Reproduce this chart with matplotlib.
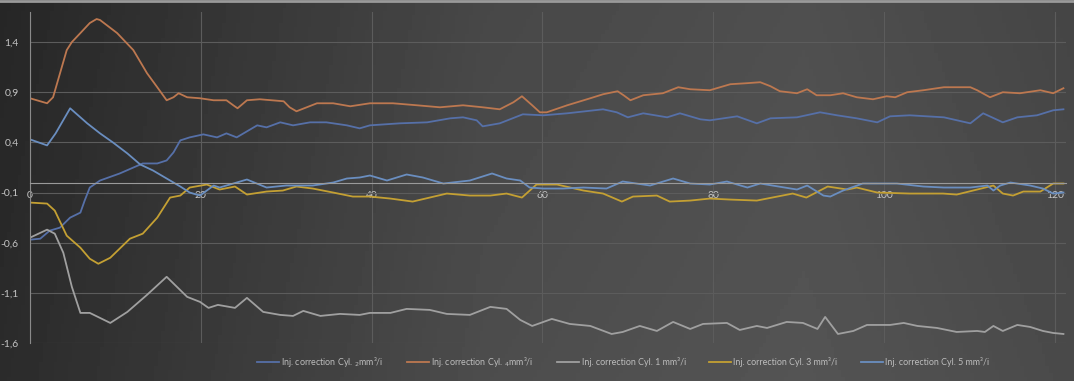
import numpy as np
import matplotlib
matplotlib.use("Agg")
import matplotlib.pyplot as plt
from matplotlib.ticker import FuncFormatter

plt.rcParams["font.family"] = ["Lato", "DejaVu Sans"]

# Cyl 4 (orange)
x_cyl4 = [0, 2, 2.7, 4.3, 4.9, 5.9, 7, 7.8, 8.2, 10.2, 12.1, 13.7, 14.9, 16, 16.8, 17.4, 18.4, 19.9,
          21.5, 23, 23.8, 24.3, 25.4, 26.9, 29.7, 30.4, 31.2, 33.6, 35.5, 37.5, 39.8, 42.5, 45.3, 48,
          50.7, 53, 55, 56.6, 57.6, 58.8, 59.7, 60.5, 62.9, 65.6, 67.1, 68.8, 69.5, 70.3, 71.8, 74.1,
          75.9, 77.3, 79.6, 82, 83.9, 85.5, 86.7, 87.8, 89.8, 91, 92.1, 93.7, 95.2, 96.8, 98.7, 100.3,
          101.3, 102.7, 104.6, 107, 110.1, 110.9, 112.4, 113.9, 115.9, 118.3, 119.8, 121]
y_cyl4 = [0.84, 0.79, 0.85, 1.32, 1.40, 1.49, 1.59, 1.63, 1.62, 1.49, 1.32, 1.09, 0.95, 0.82, 0.85,
          0.89, 0.85, 0.84, 0.82, 0.82, 0.77, 0.74, 0.82, 0.83, 0.81, 0.75, 0.71, 0.79, 0.79, 0.76,
          0.79, 0.79, 0.77, 0.75, 0.77, 0.75, 0.73, 0.80, 0.86, 0.77, 0.70, 0.70, 0.77, 0.84, 0.88,
          0.91, 0.87, 0.82, 0.87, 0.89, 0.95, 0.93, 0.92, 0.98, 0.99, 1.00, 0.96, 0.91, 0.89, 0.93,
          0.87, 0.87, 0.89, 0.85, 0.83, 0.86, 0.85, 0.90, 0.92, 0.95, 0.95, 0.92, 0.85, 0.90, 0.89,
          0.92, 0.89, 0.94]

# Cyl 1 (gris)
x_cyl1 = [0, 2, 2.9, 3.9, 4.9, 5.9, 7, 8.2, 9.4, 11.4, 13.7, 16, 18.4, 19.9, 20.9, 22, 24, 25.4,
          27.3, 29.3, 30.8, 32, 34, 36.3, 38.6, 39.8, 42.2, 44.1, 46.8, 48.8, 51.5, 53.9, 55.8, 57.4,
          58.8, 61.1, 63.2, 65.6, 68.1, 69.4, 71.4, 73.4, 75.3, 77.3, 78.8, 81.6, 83.1, 85.1, 86.3,
          88.6, 90.5, 92.2, 93.1, 94.6, 96.4, 98, 100.7, 102.3, 103.9, 106.2, 108.5, 110.9, 111.8,
          112.8, 113.9, 115.6, 117.1, 118.6, 119.8, 121]
y_cyl1 = [-0.55, -0.47, -0.51, -0.70, -1.04, -1.30, -1.30, -1.35, -1.40, -1.29, -1.12, -0.94, -1.14,
          -1.19, -1.25, -1.22, -1.25, -1.15, -1.29, -1.32, -1.33, -1.28, -1.33, -1.31, -1.32, -1.30,
          -1.30, -1.26, -1.27, -1.31, -1.32, -1.24, -1.26, -1.37, -1.43, -1.36, -1.41, -1.43, -1.51,
          -1.49, -1.43, -1.48, -1.39, -1.46, -1.41, -1.40, -1.47, -1.43, -1.45, -1.39, -1.40, -1.46,
          -1.34, -1.51, -1.48, -1.42, -1.42, -1.40, -1.43, -1.45, -1.49, -1.48, -1.49, -1.43, -1.48,
          -1.42, -1.44, -1.48, -1.50, -1.51]

# Cyl 3 (jaune)
x_cyl3 = [0, 2, 2.9, 4.3, 5.9, 7, 8, 9.4, 11.7, 13.2, 14.9, 16.4, 17.6, 18.7, 20.7, 22.2, 24, 25.4,
          27.7, 29.6, 31.2, 33.1, 35.5, 37.8, 39.8, 42.2, 44.8, 48.8, 51.5, 53.9, 55.8, 57.6, 59.3,
          61.7, 64.8, 67.1, 69.3, 70.6, 73.4, 74.9, 77.3, 79.6, 82, 85.1, 89.3, 90.9, 93.4, 95.7,
          96.8, 99.2, 103, 106.9, 108.5, 110.9, 112.8, 113.9, 115.1, 116.3, 118.3, 119.8, 121]
y_cyl3 = [-0.20, -0.21, -0.28, -0.53, -0.65, -0.76, -0.81, -0.75, -0.56, -0.51, -0.35, -0.15, -0.13,
          -0.05, -0.02, -0.07, -0.04, -0.12, -0.09, -0.08, -0.04, -0.06, -0.10, -0.14, -0.14, -0.16,
          -0.19, -0.11, -0.13, -0.13, -0.11, -0.15, -0.02, -0.02, -0.08, -0.11, -0.19, -0.14, -0.13,
          -0.19, -0.18, -0.16, -0.17, -0.18, -0.11, -0.15, -0.04, -0.07, -0.05, -0.10, -0.11, -0.11,
          -0.12, -0.07, -0.03, -0.11, -0.13, -0.09, -0.09, -0.01, -0.01]

# Cyl 5 (bleu clair, autour de 0)
x_cyl5 = [0, 2, 3, 4.7, 5.9, 6.7, 8.2, 9.7, 11.4, 12.9, 14.4, 16, 17.6, 18.7, 19.9, 21.5, 22.2, 23.8,
          25.4, 27.7, 30, 33.1, 35.5, 37.1, 38.6, 39.8, 41.8, 44.1, 46, 48.4, 51.5, 54.1, 55.8, 57.4,
          58.5, 60.1, 62.4, 64.8, 67.5, 69.4, 72.6, 75.3, 77.3, 79.6, 81.6, 84, 85.5, 89.8, 91, 92.9,
          93.7, 95.2, 97.5, 101.5, 104.6, 107, 110.1, 112.1, 112.8, 113.6, 114.8, 117.1, 118.6, 119.8,
          121]
y_cyl5 = [0.43, 0.37, 0.49, 0.74, 0.65, 0.59, 0.49, 0.40, 0.29, 0.18, 0.12, 0.04, -0.04, -0.10,
          -0.13, -0.03, -0.05, -0.01, 0.03, -0.05, -0.03, -0.03, 0.00, 0.04, 0.05, 0.07, 0.02, 0.08,
          0.05, -0.01, 0.02, 0.09, 0.04, 0.02, -0.05, -0.06, -0.06, -0.05, -0.06, 0.01, -0.03, 0.04,
          -0.01, -0.02, 0.01, -0.05, -0.01, -0.07, -0.03, -0.13, -0.14, -0.08, -0.01, -0.01, -0.04,
          -0.05, -0.05, -0.03, -0.08, -0.03, 0.00, -0.03, -0.06, -0.11, -0.10]

# Cyl 2 (bleu, monte vers 0.6)
x_cyl2 = [0, 1.2, 2.3, 3.5, 4.7, 5.9, 6.4, 7, 8.2, 10.5, 13.2, 14.9, 16, 16.8, 17.6, 18.7, 20.3,
          21.9, 23, 24.2, 26.6, 27.7, 29.3, 30.8, 32.8, 34.7, 37.1, 38.6, 39.8, 43.3, 46.5, 49.2,
          50.7, 52.3, 53, 55, 57.7, 60.1, 62.9, 67.1, 68.7, 70, 71.8, 74.6, 76.1, 78.5, 79.6, 82.8,
          85.1, 86.7, 89.8, 92.5, 94.5, 96.8, 99.2, 100.7, 103, 107, 110.1, 111.6, 113.9, 115.6,
          117.9, 119.8, 121]
y_cyl2 = [-0.57, -0.56, -0.48, -0.45, -0.35, -0.30, -0.18, -0.05, 0.02, 0.09, 0.19, 0.19, 0.22, 0.30,
          0.42, 0.45, 0.48, 0.45, 0.49, 0.45, 0.57, 0.55, 0.60, 0.57, 0.60, 0.60, 0.57, 0.54, 0.57,
          0.59, 0.60, 0.64, 0.65, 0.62, 0.56, 0.59, 0.68, 0.67, 0.69, 0.73, 0.70, 0.65, 0.69, 0.65,
          0.69, 0.63, 0.62, 0.66, 0.59, 0.64, 0.65, 0.70, 0.67, 0.64, 0.60, 0.66, 0.67, 0.65, 0.59,
          0.69, 0.60, 0.65, 0.67, 0.72, 0.73]

labels = ["Inj. correction Cyl. $_{2}$mm³/i",
          "Inj. correction Cyl. $_{4}$mm³/i",
          "Inj. correction Cyl. 1 mm³/i",
          "Inj. correction Cyl. 3 mm³/i",
          "Inj. correction Cyl. 5 mm³/i"]
couleurs = ["#5670a8", "#bd7850", "#a0a0a0", "#c4a033", "#6a8ec0"]
series = [(x_cyl2, y_cyl2), (x_cyl4, y_cyl4), (x_cyl1, y_cyl1), (x_cyl3, y_cyl3), (x_cyl5, y_cyl5)]

fig = plt.figure(figsize=(10.74, 3.81), dpi=100)

# fond en degrade sombre
bg = fig.add_axes([0, 0, 1, 1], zorder=-10)
gx = np.linspace(0, 1, 300)
gy = np.linspace(0, 1, 100)
GX, GY = np.meshgrid(gx, gy)
val = np.interp(GX, [0, 0.45, 0.75, 1], [0.15, 0.28, 0.31, 0.27]) + 0.02 * GY
bg.imshow(val, cmap="gray", vmin=0, vmax=1, aspect="auto", extent=[0, 1, 0, 1], origin="upper")
bg.axis("off")
bg.plot([0, 1], [0.997, 0.997], color="#9a9a9a", lw=2, transform=bg.transAxes)

ax = fig.add_axes([30 / 1074, 1 - 343 / 381, 1036 / 1074, 331 / 381])
ax.set_facecolor("none")

for (xs, ys), lab, c in zip(series, labels, couleurs):
    ax.plot(xs, ys, color=c, lw=1.3, label=lab, solid_joinstyle="round")

ax.set_xlim(0, 121.3)
ax.set_ylim(-1.6, 1.7)
ax.set_xticks(range(0, 121, 20))
ax.set_yticks([-1.6, -1.1, -0.6, -0.1, 0.4, 0.9, 1.4])
ax.yaxis.set_major_formatter(FuncFormatter(lambda v, p: ("%.1f" % v).replace(".", ",")))

ax.grid(True, color="#5c5c5c", lw=0.8)
ax.set_axisbelow(True)
for s in ["top", "right"]:
    ax.spines[s].set_visible(False)
ax.spines["bottom"].set_position(("data", 0))
ax.spines["bottom"].set_color("#9a9a9a")
ax.spines["left"].set_color("#8a8a8a")
ax.tick_params(axis="both", length=0, colors="#c4c4c4", labelsize=7.5)
ax.tick_params(axis="x", pad=6)
ax.tick_params(axis="y", pad=8)

leg = fig.legend(loc="center", bbox_to_anchor=(0.58, 0.05), ncol=5, frameon=False,
                 fontsize=6.4, handlelength=2.5, columnspacing=2.6, handletextpad=0.25)
for t in leg.get_texts():
    t.set_color("#bdbdbd")

fig.savefig("out.png", dpi=100)
